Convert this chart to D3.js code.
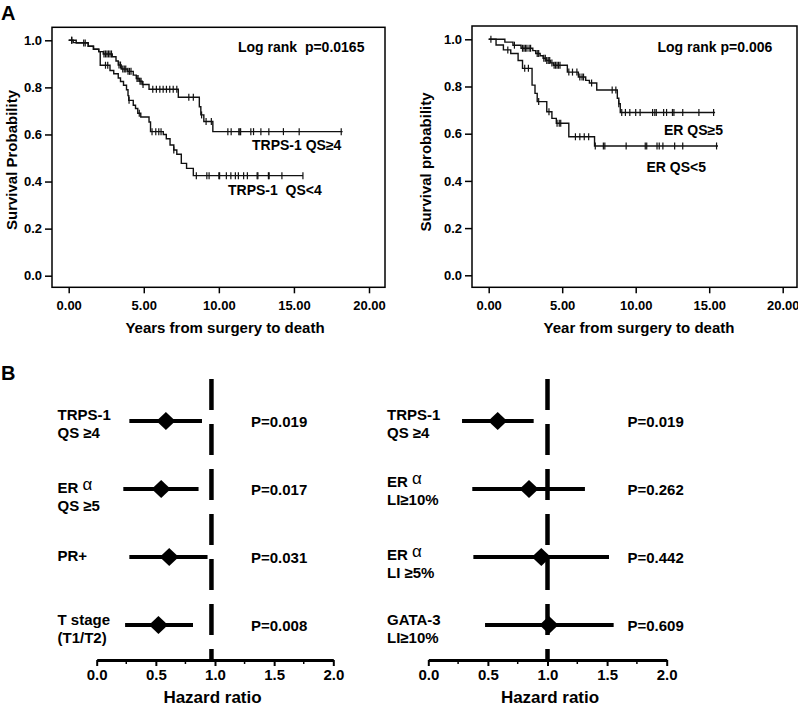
<!DOCTYPE html>
<html><head><meta charset="utf-8">
<script src="https://cdnjs.cloudflare.com/ajax/libs/d3/7.8.5/d3.min.js"></script>
<style>
html,body{margin:0;padding:0;background:#fff;}
svg{display:block;font-family:"Liberation Sans",Arial,Helvetica,sans-serif;font-weight:bold;}
</style></head>
<body>
<svg id="chart" width="798" height="707"></svg>
<script>
// ---------- DATA ----------
// Panel A left: TRPS-1
const trpsHighSteps = [[0,1],[0.5,0.988],[1.3,0.975],[1.65,0.962],[2.0,0.952],[2.3,0.942],[2.9,0.93],[3.15,0.912],[3.3,0.895],[3.5,0.878],[3.9,0.868],[4.3,0.852],[4.5,0.838],[4.7,0.826],[4.9,0.812],[5.35,0.792],[7.3,0.758],[8.7,0.718],[8.8,0.683],[9.0,0.655],[9.6,0.612]];
const trpsHighEnd = 18.24;
const trpsHighCensor = [0.2,1.0,1.1,2.35,2.45,2.55,2.65,2.75,2.85,3.35,3.45,3.6,3.7,3.8,3.95,4.05,4.15,4.55,4.62,4.75,4.82,4.95,5.6,5.84,6.07,6.29,6.51,6.73,6.96,7.2,8.0,8.3,8.85,9.15,9.5,10.6,10.82,11.33,11.4,11.45,12.13,12.31,12.8,13.33,14.3,15.35,18.15];
const trpsLowSteps = [[0,1],[0.3,0.99],[1.3,0.975],[1.65,0.962],[2.0,0.952],[2.1,0.894],[2.75,0.872],[3.0,0.858],[3.3,0.84],[3.45,0.825],[3.65,0.809],[3.85,0.79],[3.95,0.765],[4.0,0.745],[4.3,0.724],[4.45,0.71],[4.6,0.69],[4.8,0.674],[5.35,0.653],[5.45,0.612],[6.3,0.6],[6.5,0.582],[6.75,0.555],[7.0,0.534],[7.2,0.516],[7.5,0.477],[7.85,0.456],[8.3,0.425]];
const trpsLowEnd = 15.6;
const trpsLowCensor = [0.2,2.45,2.6,4.02,4.7,5.55,5.8,6.0,6.15,7.0,8.5,9.2,9.35,10.0,10.05,10.5,10.8,11.1,11.3,11.65,11.9,12.55,12.6,13.3,13.35,14.2,15.6];
// Panel A right: ER
const erHighSteps = [[0,1],[1.1,0.988],[1.65,0.975],[2.2,0.962],[3.0,0.952],[3.2,0.94],[3.5,0.93],[3.7,0.92],[3.9,0.91],[4.2,0.9],[4.4,0.89],[5.35,0.861],[6.1,0.84],[6.6,0.826],[6.85,0.815],[7.35,0.785],[8.75,0.75],[8.85,0.727],[8.95,0.69]];
const erHighEnd = 15.4;
const erHighCensor = [0.15,1.75,2.3,2.4,2.5,2.6,2.75,2.85,3.3,3.4,3.75,3.85,3.95,4.05,4.15,4.3,4.45,4.55,4.65,4.75,4.85,5.45,5.7,6.0,6.2,6.35,6.45,7.0,8.4,8.65,8.85,9.05,9.3,9.6,10.0,10.3,11.15,11.3,11.4,11.9,12.1,12.5,12.6,13.2,14.3,15.3];
const erLowSteps = [[0,1],[0.5,0.976],[1.0,0.955],[1.5,0.94],[2.0,0.91],[2.3,0.877],[2.95,0.806],[3.15,0.771],[3.3,0.736],[3.95,0.693],[4.3,0.665],[4.6,0.644],[5.45,0.587],[7.2,0.548]];
const erLowEnd = 15.6;
const erLowCensor = [1.3,2.45,2.7,3.4,4.1,4.65,4.8,4.9,5.9,6.2,6.5,6.8,7.25,7.8,7.9,9.35,10.65,10.75,11.45,11.6,11.85,12.65,13.2,15.5];

const kmYTicks = [0,0.2,0.4,0.6,0.8,1.0];
const kmXTicks = [0,5,10,15,20];

// Panel B forest plots
const forestLeftLabels = [["TRPS-1","QS \u22654"],["ER \u03b1","QS \u22655"],["PR+"],["T stage","(T1/T2)"]];
const forestLeftHR = [0.585,0.545,0.613,0.522];
const forestLeftLo = [0.276,0.225,0.276,0.24];
const forestLeftHi = [0.89,0.861,0.937,0.814];
const forestLeftP = ["P=0.019","P=0.017","P=0.031","P=0.008"];

const forestRightLabels = [["TRPS-1","QS \u22654"],["ER \u03b1","LI\u226510%"],["ER \u03b1","LI \u22655%"],["GATA-3","LI\u226510%"]];
const forestRightHR = [0.582,0.845,0.948,1.012];
const forestRightLo = [0.283,0.369,0.378,0.476];
const forestRightHi = [0.884,1.314,1.516,1.555];
const forestRightP = ["P=0.019","P=0.262","P=0.442","P=0.609"];

const hrTicks = [0,0.5,1.0,1.5,2.0];
const hrMinor = [0.25,0.75,1.25,1.75];

// ---------- DRAW ----------
const svg = d3.select("#chart");

svg.append("text").attr("x",1).attr("y",20).attr("font-size",20).text("A");
svg.append("text").attr("x",1).attr("y",380).attr("font-size",20).text("B");

function stepAt(steps,t){
  let s = steps[0][1];
  for(const p of steps){ if(p[0] <= t) s = p[1]; }
  return s;
}

function kmPanel(o){
  const g = svg.append("g");
  const x = d3.scaleLinear().domain([0,20]).range(o.xr);
  const y = d3.scaleLinear().domain([0,1]).range(o.yr);
  g.append("rect").attr("x",o.fx0).attr("y",o.fy0).attr("width",o.fx1-o.fx0).attr("height",o.fy1-o.fy0)
    .attr("fill","none").attr("stroke","#000").attr("stroke-width",1.5);
  const ya = g.append("g").attr("transform",`translate(${o.fx0},0)`)
    .call(d3.axisLeft(y).tickValues(kmYTicks).tickFormat(d3.format(".1f")).tickSize(7).tickPadding(3));
  ya.select(".domain").remove();
  ya.selectAll("line").attr("stroke-width",1.5);
  ya.selectAll("text").attr("font-size",13).attr("font-family","Liberation Sans, Arial, sans-serif").attr("font-weight","bold").attr("fill","#000");
  const xa = g.append("g").attr("transform",`translate(0,${o.fy1})`)
    .call(d3.axisBottom(x).tickValues(kmXTicks).tickFormat(d3.format(".2f")).tickSize(6));
  xa.select(".domain").remove();
  xa.selectAll("line").attr("stroke-width",1.5);
  xa.selectAll("text").attr("y",23).attr("dy",0).attr("font-size",13).attr("font-family","Liberation Sans, Arial, sans-serif").attr("font-weight","bold").attr("fill","#000");

  const line = d3.line().x(d=>x(d[0])).y(d=>y(d[1])).curve(d3.curveStepAfter);
  for(const c of o.curves){
    const pts = c.steps.concat([[c.end, c.steps[c.steps.length-1][1]]]);
    g.append("path").attr("d",line(pts)).attr("fill","none").attr("stroke","#111").attr("stroke-width",1.4);
    g.selectAll(null).data(c.censor).enter().append("line")
      .attr("x1",d=>x(d)).attr("x2",d=>x(d))
      .attr("y1",d=>y(stepAt(c.steps,d))-3.5).attr("y2",d=>y(stepAt(c.steps,d))+3.5)
      .attr("stroke","#111").attr("stroke-width",1.2);
  }
  g.append("text").attr("transform",`translate(${o.ytx},${o.yty}) rotate(-90)`).attr("text-anchor","middle")
    .attr("font-size",15).text(o.ytitle);
  g.append("text").attr("x",o.xtx).attr("y",333).attr("text-anchor","middle").attr("font-size",15).text(o.xtitle);
  g.append("text").attr("x",o.lrx).attr("y",52).attr("font-size",14).style("white-space","pre").text(o.logrank);
  for(const l of o.labels){
    g.append("text").attr("x",l[1]).attr("y",l[2]).attr("font-size",14).style("white-space","pre").text(l[0]);
  }
}

kmPanel({xr:[68.7,369],yr:[275.7,40.3],fx0:52,fx1:385,fy0:27.3,fy1:287.3,
  curves:[{steps:trpsHighSteps,end:trpsHighEnd,censor:trpsHighCensor},{steps:trpsLowSteps,end:trpsLowEnd,censor:trpsLowCensor}],
  ytitle:"Survival Probability",ytx:16.5,yty:160,xtitle:"Years from surgery to death",xtx:225,
  logrank:"Log rank  p=0.0165",lrx:238,
  labels:[["TRPS-1 QS\u22654",252,150],["TRPS-1  QS<4",228,195]]});

kmPanel({xr:[488.7,782.7],yr:[275.3,39.3],fx0:472,fx1:797,fy0:26,fy1:287.3,
  curves:[{steps:erHighSteps,end:erHighEnd,censor:erHighCensor},{steps:erLowSteps,end:erLowEnd,censor:erLowCensor}],
  ytitle:"Survival probability",ytx:431,yty:162,xtitle:"Year from surgery to death",xtx:639,
  logrank:"Log rank p=0.006",lrx:657.5,
  labels:[["ER QS\u22655",664,135],["ER QS<5",646.5,172]]});

function forest(o){
  const g = svg.append("g");
  const x = d3.scaleLinear().domain([0,2]).range(o.xr);
  const y = d3.scaleLinear().domain([0,3]).range([421,625]);
  const axisY = 660;
  g.append("line").attr("x1",x(o.ref)).attr("x2",x(o.ref)).attr("y1",379).attr("y2",axisY)
    .attr("stroke","#000").attr("stroke-width",4.5).attr("stroke-dasharray","31,14");
  const ax = g.append("g").attr("transform",`translate(0,${axisY})`)
    .call(d3.axisBottom(x).tickValues(hrTicks).tickFormat(d3.format(".1f")).tickSize(6).tickSizeOuter(0));
  ax.select(".domain").attr("stroke-width",3);
  ax.selectAll("line").attr("stroke-width",2);
  ax.selectAll("text").attr("y",20).attr("dy",0).attr("font-size",15).attr("font-family","Liberation Sans, Arial, sans-serif").attr("font-weight","bold").attr("fill","#000");
  g.selectAll(null).data(hrMinor).enter().append("line")
    .attr("x1",d=>x(d)).attr("x2",d=>x(d)).attr("y1",axisY).attr("y2",axisY+4).attr("stroke","#000").attr("stroke-width",1.5);
  g.append("text").attr("x",o.titleX).attr("y",703).attr("text-anchor","middle").attr("font-size",17).text("Hazard ratio");
  o.hr.forEach((h,i)=>{
    const cy = y(i);
    g.append("line").attr("x1",x(o.lo[i])).attr("x2",x(o.hi[i])).attr("y1",cy).attr("y2",cy)
      .attr("stroke","#000").attr("stroke-width",4);
    const cx = x(h);
    g.append("path").attr("d",`M${cx-9.5},${cy}L${cx},${cy-9}L${cx+9.5},${cy}L${cx},${cy+9}Z`).attr("fill","#000");
    g.append("text").attr("x",o.px).attr("y",cy+5.5).attr("font-size",15).text(o.p[i]);
    const lab = o.labels[i];
    const sh = o.shift[i];
    lab.forEach((s,j)=>{
      const t = g.append("text").attr("x",o.lx).attr("y",cy+sh+(j===0?-1:16.5)).attr("font-size",15);
      if(s.indexOf("\u03b1")>=0){
        const parts = s.split("\u03b1");
        t.append("tspan").text(parts[0]);
        t.append("tspan").attr("font-weight","normal").attr("font-size",17).attr("dy",-3).text("\u03b1");
      } else t.text(s);
    });
  });
}

forest({xr:[96.7,333.3],ref:0.97,titleX:212.5,px:251,lx:57.5,
  hr:forestLeftHR,lo:forestLeftLo,hi:forestLeftHi,p:forestLeftP,labels:forestLeftLabels,shift:[0,5,5,1]});
forest({xr:[428.3,666.7],ref:1.0,titleX:550,px:627.5,lx:387,
  hr:forestRightHR,lo:forestRightLo,hi:forestRightHi,p:forestRightP,labels:forestRightLabels,shift:[0,-1,4,1]});
</script>
</body></html>
